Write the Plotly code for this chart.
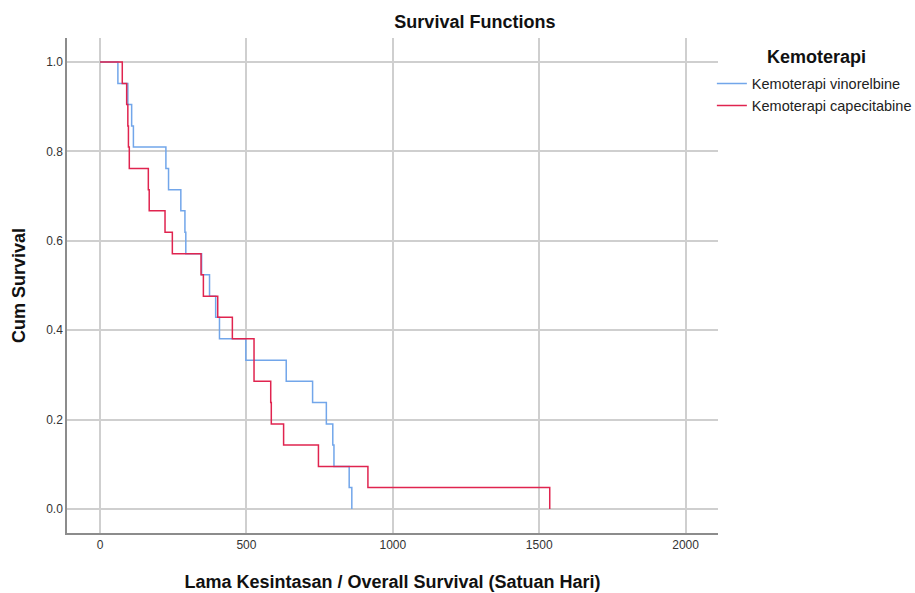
import plotly.graph_objects as go

# Kaplan-Meier step data (time in days, cumulative survival)
vin_time = [0, 61, 95, 108, 114, 225, 234, 276, 290, 293, 347, 374, 395, 408,
            498, 636, 726, 773, 795, 799, 851, 860]
vin_surv = [1.0, 0.952, 0.905, 0.857, 0.810, 0.762, 0.714, 0.667, 0.619, 0.571,
            0.524, 0.476, 0.429, 0.381, 0.333, 0.286, 0.238, 0.190, 0.143, 0.095,
            0.048, 0.0]

cap_time = [0, 76, 91, 95, 97, 100, 165, 168, 222, 247, 345, 353, 402, 452,
            526, 583, 585, 627, 746, 915, 1536]
cap_surv = [1.0, 0.952, 0.905, 0.857, 0.810, 0.762, 0.714, 0.667, 0.619, 0.571,
            0.524, 0.476, 0.429, 0.381, 0.286, 0.238, 0.190, 0.143, 0.095, 0.048,
            0.0]

series_names = ["Kemoterapi vinorelbine", "Kemoterapi capecitabine"]
series_colors = ["#72a6ea", "#e0244f"]
legend_title = "Kemoterapi"

x_ticks = [0, 500, 1000, 1500, 2000]
y_ticks = [0.0, 0.2, 0.4, 0.6, 0.8, 1.0]

fig = go.Figure()
for t, s, name, col in zip([vin_time, cap_time], [vin_surv, cap_surv],
                           series_names, series_colors):
    fig.add_trace(go.Scatter(x=t, y=s, mode="lines", name=name,
                             line=dict(color=col, width=1.5, shape="hv")))

font_family = "Liberation Sans, Arial, sans-serif"

fig.update_layout(
    width=915, height=593,
    margin=dict(l=67, r=197, t=38, b=60, autoexpand=False),
    paper_bgcolor="white", plot_bgcolor="white",
    font=dict(family=font_family, color="#222222"),
    title=dict(text="<b>Survival Functions</b>", x=0.519, xref="container",
               xanchor="center", y=0.963, yref="container", yanchor="middle",
               font=dict(size=18, color="#111111")),
    legend=dict(
        xref="container", yref="container",
        x=0.778, xanchor="left", y=0.886, yanchor="top",
        font=dict(size=14.5, color="#222222"),
        tracegroupgap=0, itemwidth=30,
        bgcolor="rgba(0,0,0,0)",
    ),
    showlegend=True,
    annotations=[dict(text=f"<b>{legend_title}</b>", xref="paper", yref="paper",
                      x=1.151, y=0.9616, xanchor="center", yanchor="middle",
                      showarrow=False, font=dict(size=18, color="#111111"))],
)

fig.update_xaxes(
    range=[-112.8, 2110.7], tickvals=x_ticks, ticktext=[str(v) for v in x_ticks],
    showgrid=True, gridcolor="#cfcfcf", gridwidth=1.5,
    showline=True, linecolor="#8c8c8c", linewidth=1.5,
    zeroline=False, ticks="", tickfont=dict(size=12, color="#333333"),
    automargin=False,
    title=dict(text="<b>Lama Kesintasan / Overall Survival (Satuan Hari)</b>",
               font=dict(size=18, color="#111111"), standoff=24),
)
fig.update_yaxes(
    range=[-0.0538, 1.0538], tickvals=y_ticks, ticktext=[f"{v:.1f}" for v in y_ticks],
    showgrid=True, gridcolor="#cfcfcf", gridwidth=1.5,
    showline=True, linecolor="#8c8c8c", linewidth=1.5,
    zeroline=False, ticks="", tickfont=dict(size=12, color="#333333"),
    automargin=False,
    title=dict(text="<b>Cum Survival</b>", font=dict(size=18, color="#111111"),
               standoff=16),
)

fig.write_html("out.html")
